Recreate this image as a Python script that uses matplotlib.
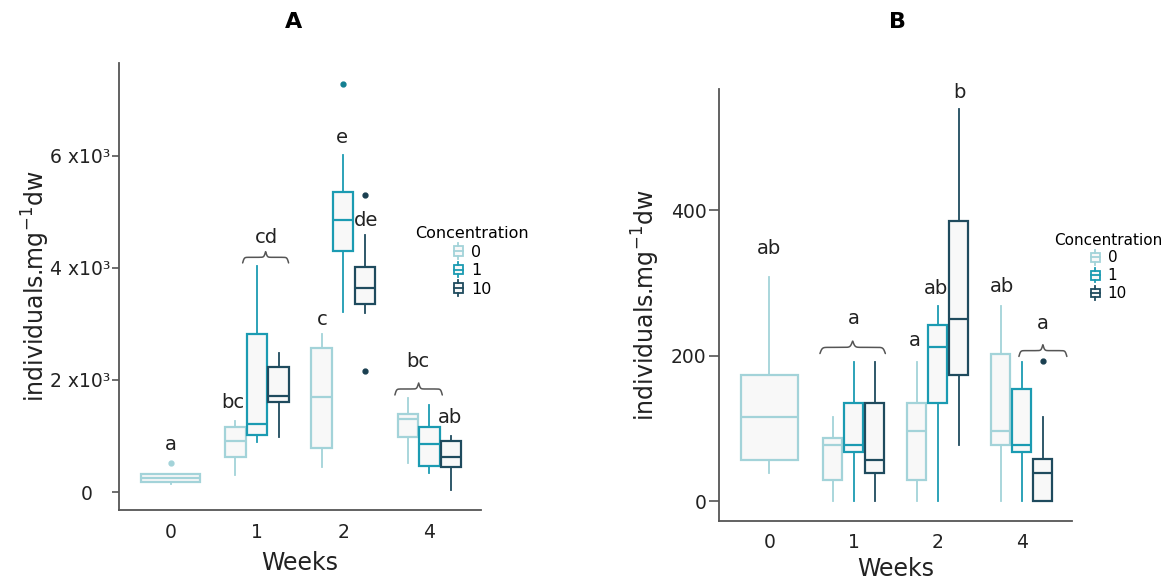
import numpy as np
import matplotlib
matplotlib.use("Agg")
import matplotlib.pyplot as plt
from matplotlib.patches import Rectangle
from matplotlib.lines import Line2D
from matplotlib.legend_handler import HandlerBase

plt.rcParams['font.family'] = ['DejaVu Sans']

weeks = ["0", "1", "2", "4"]
concentrations = ["0", "1", "10"]
colors = {"0": "#a3d3d9", "1": "#1b9bb2", "10": "#1f4b5e"}
flier_colors = {"0": "#a3d3d9", "1": "#137f91", "10": "#1a3f50"}

# group order: (week index, concentration)
group_week = [0, 1, 1, 1, 2, 2, 2, 3, 3, 3]
group_conc = ["0", "0", "1", "10", "0", "1", "10", "0", "1", "10"]

# panel A (individuals per mg dw)
a_med = [255, 916, 1209, 1720, 1691, 4857, 3643, 1304, 857, 620]
a_q1 = [184, 630, 1018, 1613, 780, 4304, 3357, 988, 470, 441]
a_q3 = [321, 1166, 2816, 2238, 2577, 5363, 4012, 1387, 1155, 916]
a_lo = [143, 304, 898, 988, 441, 3209, 3191, 512, 333, 36]
a_hi = [321, 1268, 4036, 2488, 2816, 6012, 4589, 1684, 1554, 1000]
a_fliers = [[518], [], [], [], [], [7286], [5304, 2166], [], [], []]
a_letters = ["a", "bc", "cd", "c", "e", "de", "bc", "ab"]
a_letter_x = [0.0, 0.72, 1.11, 1.76, 1.99, 2.27, 2.87, 3.24]
a_letter_y = [857, 1590, 4536, 3071, 6321, 4839, 2321, 1339]
a_braces = [(0.834, 1.367, 4089, 200), (2.60, 3.15, 1732, 214)]

# panel B
b_med = [116, 77, 77, 57, 96, 212, 251, 97, 77, 39]
b_q1 = [57, 29, 67, 39, 29, 135, 174, 77, 67, 0]
b_q3 = [174, 87, 135, 135, 135, 242, 386, 202, 154, 58]
b_lo = [39, 0, 0, 0, 0, 0, 77, 0, 0, 0]
b_hi = [308, 115, 192, 192, 192, 269, 540, 269, 192, 115]
b_fliers = [[], [], [], [], [], [], [], [], [], [193]]
b_letters = ["ab", "a", "a", "ab", "b", "ab", "a"]
b_letter_x = [0.0, 1.006, 1.73, 1.976, 2.257, 2.76, 3.25]
b_letter_y = [348, 251, 221, 293, 562, 295, 245]
b_braces = [(0.60, 1.378, 203, 17), (2.966, 3.536, 199, 16)]

offsets = {"0": -0.25, "1": 0.0, "10": 0.25}


class BoxHandler(HandlerBase):
    def create_artists(self, legend, orig_handle, xdescent, ydescent,
                       width, height, fontsize, trans):
        c = orig_handle.get_color()
        w = width * 0.75
        x0 = (width - w) / 2 - xdescent
        y0 = height * 0.2 - ydescent
        h = height * 0.6
        rect = Rectangle((x0, y0), w, h, facecolor="#f8f8f8", edgecolor=c,
                         lw=1.3, transform=trans)
        med = Line2D([x0, x0 + w], [y0 + h / 2] * 2, color=c, lw=1.3, transform=trans)
        wlo = Line2D([width / 2 - xdescent] * 2, [y0 - height * 0.2, y0], color=c,
                     lw=1.3, transform=trans)
        whi = Line2D([width / 2 - xdescent] * 2, [y0 + h, y0 + h + height * 0.2],
                     color=c, lw=1.3, transform=trans)
        return [rect, med, wlo, whi]


def brace(ax, x0, x1, y, h):
    # curly brace pointing up
    t = np.linspace(0, 0.5, 150)
    beta = 60.0
    half = 1 / (1 + np.exp(-beta * (t - t[0]))) + 1 / (1 + np.exp(-beta * (t - t[-1])))
    yy = np.concatenate([half, half[::-1]])
    xx = np.linspace(x0, x1, yy.size)
    yy = (yy - yy.min()) / (yy.max() - yy.min())
    ax.plot(xx, y + yy * h, color="#555555", lw=1.1, solid_capstyle="round")


def draw_panel(ax, med, q1, q3, lo, hi, fliers, widths_main):
    for i in range(len(med)):
        c = colors[group_conc[i]]
        fc = flier_colors[group_conc[i]]
        wk = group_week[i]
        if wk == 0:
            pos, wd = 0.0, 0.68
        else:
            pos, wd = wk + offsets[group_conc[i]], widths_main
        st = [dict(med=med[i], q1=q1[i], q3=q3[i], whislo=lo[i], whishi=hi[i],
                   fliers=fliers[i])]
        ax.bxp(st, positions=[pos], widths=[wd], patch_artist=True,
               showcaps=False, manage_ticks=False,
               boxprops=dict(facecolor="#f8f8f8", edgecolor=c, lw=1.6),
               medianprops=dict(color=c, lw=1.6),
               whiskerprops=dict(color=c, lw=1.3),
               flierprops=dict(marker="o", markersize=3.5, markerfacecolor=fc,
                               markeredgecolor=fc))


def style_axes(ax):
    for s in ["top", "right"]:
        ax.spines[s].set_visible(False)
    for s in ["left", "bottom"]:
        ax.spines[s].set_color("#555555")
        ax.spines[s].set_linewidth(1.3)
    ax.set_xlim(-0.6, 3.6)
    ax.set_xticks(range(len(weeks)))
    ax.set_xticklabels(weeks)
    ax.tick_params(axis="x", length=0, pad=9, labelsize=13.5, colors="#222222")
    ax.tick_params(axis="y", length=5, width=1.2, color="#555555", labelsize=13.5,
                   labelcolor="#222222", pad=1)
    ax.set_xlabel("Weeks", fontsize=17, color="#222222")
    ax.set_ylabel("individuals.mg$^{-1}$dw", fontsize=17, color="#222222")


fig = plt.figure(figsize=(11.68, 5.83), dpi=100)
ax_a = fig.add_axes([0.1019, 0.1252, 0.310, 0.767])
ax_b = fig.add_axes([0.6156, 0.1069, 0.3024, 0.7404])

# panel A
draw_panel(ax_a, a_med, a_q1, a_q3, a_lo, a_hi, a_fliers, 0.235)
style_axes(ax_a)
ax_a.set_ylim(-321, 7660)
ax_a.set_yticks([0, 2000, 4000, 6000])
ax_a.set_yticklabels(["0   ", "2 x10³", "4 x10³", "6 x10³"])
ax_a.yaxis.set_label_coords(-0.185, 0.5)
ax_a.xaxis.set_label_coords(0.5, -0.092)
for s, x, y in zip(a_letters, a_letter_x, a_letter_y):
    ax_a.text(x, y, s, ha="center", va="center", fontsize=14, color="#222222")
for x0, x1, y, h in a_braces:
    brace(ax_a, x0, x1, y, h)

# panel B
draw_panel(ax_b, b_med, b_q1, b_q3, b_lo, b_hi, b_fliers, 0.23)
style_axes(ax_b)
ax_b.set_ylim(-27, 567)
ax_b.set_yticks([0, 200, 400])
ax_b.tick_params(axis="y", pad=2, length=7)
ax_b.yaxis.set_label_coords(-0.161, 0.5)
ax_b.xaxis.set_label_coords(0.5, -0.084)
for s, x, y in zip(b_letters, b_letter_x, b_letter_y):
    ax_b.text(x, y, s, ha="center", va="center", fontsize=14, color="#222222")
for x0, x1, y, h in b_braces:
    brace(ax_b, x0, x1, y, h)

# legends
for ax, anchor, fs in [(ax_a, (0.404, 0.626), 11.5), (ax_b, (0.9486, 0.614), 11)]:
    handles = [Line2D([], [], color=colors[c]) for c in concentrations]
    leg = ax.legend(handles, concentrations, handler_map={Line2D: BoxHandler()},
                    title="Concentration", loc="upper center",
                    bbox_to_anchor=anchor, bbox_transform=fig.transFigure,
                    frameon=False, fontsize=fs, title_fontsize=fs,
                    handlelength=0.8, handleheight=1.1, handletextpad=0.4,
                    labelspacing=0.15, borderpad=0)
    leg._legend_box.align = "center"

fig.text(0.251, 0.962, "A", ha="center", va="center", fontsize=16, fontweight="bold")
fig.text(0.768, 0.962, "B", ha="center", va="center", fontsize=16, fontweight="bold")

fig.savefig("out.png", dpi=100)
